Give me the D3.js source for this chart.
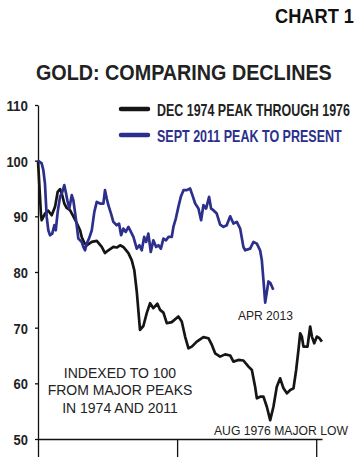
<!DOCTYPE html>
<html>
<head>
<meta charset="utf-8">
<script src="https://cdn.jsdelivr.net/npm/d3@7"></script>
<style>
  body { margin: 0; background: #fff; }
  svg { display: block; }
</style>
</head>
<body>
<div id="chart"></div>
<script>
// months after the peak, and gold price indexed to 100 at the peak
var months1974 = [0, 0.26, 0.32, 0.6, 0.89, 1.18, 1.47, 1.7, 1.9, 2.05, 2.27, 2.48, 2.76, 3.05, 3.34, 3.63, 3.77, 4.0, 4.2, 4.64,
    5.07, 5.5, 5.78, 6.07, 6.5, 6.79, 7.08, 7.36, 7.8, 8.09, 8.31, 8.52, 8.8, 9.09, 9.38, 9.67, 9.95, 10.3, 10.53, 10.82,
    11.11, 11.54, 12.11, 12.4, 12.69, 12.98, 13.27, 13.7, 14.27, 14.7, 15.0, 15.28, 15.71, 16.14, 16.58, 16.86, 17.29, 17.72, 18.16, 18.45,
    18.73, 18.88, 19.16, 19.45, 19.74, 20.03, 20.31, 20.6, 20.89, 21.18, 21.47, 21.76, 22.04, 22.27, 22.47, 22.62, 22.76, 22.9, 23.25, 23.48,
    23.63, 23.83, 24.06, 24.28, 24.49]
var values1974 = [100, 90.2, 89.3, 90.5, 91, 90.2, 91.7, 94.4, 94.9, 94.1, 92.3, 91.5, 91.1, 90, 88.8, 87.5, 86.3, 85.2, 84.8, 85.4,
    85.6, 84.5, 83.4, 83.9, 84.5, 84.4, 84.8, 84.5, 83.4, 82.1, 80.3, 76.5, 69.6, 70.3, 72.6, 74.4, 73.5, 74.3, 73.2, 72.7,
    70.8, 71, 72, 71.1, 68.4, 66.3, 66.6, 67.5, 68.3, 68.1, 66.9, 65.4, 64.8, 65.2, 65, 63.9, 64.2, 64.1, 63, 62.4,
    59.4, 57.3, 57.6, 57.6, 55.8, 53.4, 55.8, 59.4, 60.9, 59.1, 58.2, 58.8, 59.1, 62.4, 66, 69, 68.4, 66.6, 66.6, 70.2,
    68.4, 67.2, 68.4, 68.1, 67.5]

var months2011 = [0, 0.32, 0.46, 0.6, 0.75, 0.89, 1.04, 1.23, 1.41, 1.53, 1.7, 1.9, 2.1, 2.27, 2.42, 2.53, 2.7, 2.91, 3.05, 3.19,
    3.34, 3.48, 3.63, 3.77, 3.91, 4.06, 4.2, 4.4, 4.64, 4.86, 5.07, 5.35, 5.64, 5.78, 5.93, 6.07, 6.3, 6.5, 6.79, 6.99,
    7.17, 7.36, 7.57, 7.8, 8.09, 8.23, 8.52, 8.75, 8.95, 9.16, 9.33, 9.52, 9.73, 9.95, 10.19, 10.39, 10.6, 10.82, 11.05, 11.25,
    11.54, 11.68, 11.89, 12.11, 12.32, 12.55, 12.84, 13.12, 13.32, 13.56, 13.84, 14.07, 14.27, 14.5, 14.76, 14.93, 15.13, 15.42, 15.71, 16.0,
    16.28, 16.58, 16.86, 17.15, 17.44, 17.72, 17.87, 18.3, 18.59, 18.88, 19.16, 19.31, 19.45, 19.6, 19.88, 20.05, 20.3]
var values2011 = [100, 99.5, 98.3, 95.9, 89.9, 87.5, 86.6, 86.9, 88.4, 87.5, 90.8, 93.5, 94.4, 95.6, 94.1, 92.9, 91.4, 93.8, 92.9, 90.8,
    88.4, 86, 85.7, 85.4, 84.5, 83.9, 85.1, 86, 87.5, 90.8, 92.6, 92.3, 92.3, 94.7, 93.2, 92, 90.5, 89, 88.4, 88.7,
    86.6, 87.8, 87.2, 88.1, 86.9, 86.3, 84.2, 84.8, 83.9, 86.3, 85.4, 86.9, 83.6, 85.7, 84.5, 84.8, 84.2, 86, 85.7, 86.3,
    86.3, 88.1, 89.6, 91.7, 93.5, 94.7, 94.7, 95, 93.8, 92.3, 91.4, 89.3, 92, 91.4, 93.5, 91.4, 91.1, 90.5, 88.5, 88.1,
    88.4, 90, 88.7, 89, 87.8, 84.5, 83.9, 84.2, 85.4, 85.1, 83.9, 82.1, 78.5, 74.5, 78.3, 78, 76.8]

var yTicks = [50, 60, 70, 80, 90, 100, 110]
var xTicks = [0, 12, 24]
var legendLabels = ["DEC 1974 PEAK THROUGH 1976", "SEPT 2011 PEAK TO PRESENT"]
var noteLines = ["INDEXED TO 100", "FROM MAJOR PEAKS", "IN 1974 AND 2011"]

var BLACK = "#151515"
var BLUE = "#2c2f8c"
var boldFont = "'Liberation Sans Narrow', 'Arial Narrow', 'Liberation Sans', Arial, sans-serif"
var plainFont = "'Liberation Sans', Arial, sans-serif"

var width = 363, height = 467

var svg = d3.select("#chart").append("svg")
    .attr("width", width)
    .attr("height", height)

var x = d3.scaleLinear().domain([0, 24.5]).range([38, 322])
var y = d3.scaleLinear().domain([50, 110]).range([439, 105])

// squeeze a text horizontally so it spans w pixels from px (or ends at px)
function fitText(t, px, py, w, anchor) {
    var nat = t.node().getComputedTextLength()
    var sx = w / nat
    var ox = anchor == "end" ? -w : 0
    t.attr("x", 0).attr("y", 0).attr("dy", null)
        .attr("text-anchor", "start")
        .attr("transform", "translate(" + (px + ox) + "," + py + ") scale(" + sx + ",1)")
}

// titles
var t1 = svg.append("text")
    .attr("font-family", boldFont).attr("font-weight", "bold")
    .attr("font-size", 21).attr("fill", "#111")
    .text("CHART 1")
fitText(t1, 275, 23, 79)

var t2 = svg.append("text")
    .attr("font-family", boldFont).attr("font-weight", "bold")
    .attr("font-size", 22).attr("fill", "#222")
    .text("GOLD: COMPARING DECLINES")
fitText(t2, 36, 80, 296)

// axes
var yAxis = d3.axisLeft(y).tickValues(yTicks).tickSize(3).tickSizeOuter(0).tickPadding(7)
var gy = svg.append("g").attr("transform", "translate(38,0)").call(yAxis)
// labels sit inside each tick group, so positions are relative to the tick
gy.selectAll(".tick text")
    .attr("font-family", boldFont).attr("font-weight", "bold")
    .attr("font-size", 15.5).attr("fill", "#222")
    .each(function(d) {
        fitText(d3.select(this), -10, 5.5, String(d).length * 7.2, "end")
    })

var xAxis = d3.axisBottom(x).tickValues(xTicks).tickSize(18).tickSizeOuter(0).tickFormat("")
svg.append("g").attr("transform", "translate(0,439)").call(xAxis)

svg.selectAll(".domain").attr("stroke", "#111").attr("stroke-width", 1.3)
svg.selectAll(".tick line").attr("stroke", "#111").attr("stroke-width", 1.3)

// lines
var line = d3.line()
    .x(d => x(d[0]))
    .y(d => y(d[1]))

var data1974 = months1974.map((m, i) => [m, values1974[i]])
var data2011 = months2011.map((m, i) => [m, values2011[i]])

svg.append("path")
    .datum(data1974)
    .attr("fill", "none")
    .attr("stroke", BLACK)
    .attr("stroke-width", 2.7)
    .attr("stroke-linejoin", "round")
    .attr("d", line)

svg.append("path")
    .datum(data2011)
    .attr("fill", "none")
    .attr("stroke", BLUE)
    .attr("stroke-width", 2.7)
    .attr("stroke-linejoin", "round")
    .attr("d", line)

// legend
var legendColors = [BLACK, BLUE]
var legendWidths = [193, 185]
legendLabels.forEach(function(lbl, i) {
    var ly = 109 + i * 26
    svg.append("line")
        .attr("x1", 121).attr("x2", 148)
        .attr("y1", ly).attr("y2", ly)
        .attr("stroke", legendColors[i])
        .attr("stroke-width", 4.5)
        .attr("stroke-linecap", "round")
    var lt = svg.append("text")
        .attr("font-family", boldFont).attr("font-weight", "bold")
        .attr("font-size", 16.5).attr("fill", i == 0 ? "#222" : BLUE)
        .text(lbl)
    fitText(lt, 157, ly + 7, legendWidths[i])
})

// notes
noteLines.forEach(function(t, i) {
    svg.append("text")
        .attr("x", 120).attr("y", 378 + i * 17.3)
        .attr("text-anchor", "middle")
        .attr("font-family", plainFont)
        .attr("font-size", 14).attr("fill", "#222")
        .text(t)
})

var a1 = svg.append("text")
    .attr("font-family", plainFont).attr("font-size", 12.5).attr("fill", "#222")
    .text("APR 2013")
fitText(a1, 238, 320, 55)

var a2 = svg.append("text")
    .attr("font-family", plainFont).attr("font-size", 12.5).attr("fill", "#222")
    .text("AUG 1976 MAJOR LOW")
fitText(a2, 214, 435, 134)
</script>
</body>
</html>
